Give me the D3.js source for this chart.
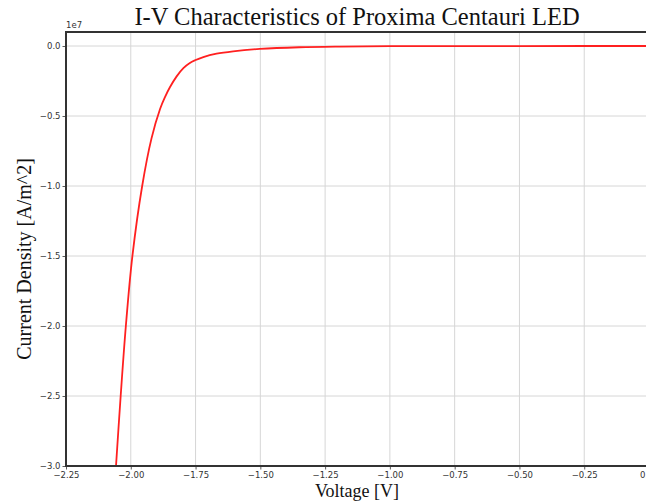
<!DOCTYPE html>
<html>
<head>
<meta charset="utf-8">
<script src="https://cdn.jsdelivr.net/npm/d3@7"></script>
<style>
  body { margin: 0; background: #fff; }
</style>
</head>
<body>
<script>
  // voltage [V] and current density [x 1e7 A/m^2]
  var voltage = [-2.057, -2.039, -2.019, -1.994, -1.956, -1.920, -1.887, -1.868, -1.849, -1.823,
                 -1.797, -1.772, -1.752, -1.720, -1.669, -1.605, -1.502, -1.350, -1.193, -1.000,
                 -0.750, -0.500, -0.250, 0.000];
  var current = [-3.0, -2.5, -2.0, -1.505, -1.0, -0.66, -0.45, -0.365, -0.295, -0.217,
                 -0.158, -0.121, -0.102, -0.079, -0.055, -0.038, -0.021, -0.009, -0.004, -0.0015,
                 -0.0005, -0.0002, -0.0001, 0.0];
  var xTicks = [-2.25, -2.00, -1.75, -1.50, -1.25, -1.00, -0.75, -0.50, -0.25, 0.00];
  var yTicks = [0.0, -0.5, -1.0, -1.5, -2.0, -2.5, -3.0];

  var w = 646, h = 504;
  var plot = { left: 66, right: 649, top: 32, bottom: 466 };

  var svg = d3.select("body").append("svg")
    .attr("width", w)
    .attr("height", h);

  var x = d3.scaleLinear().domain([-2.25, 0]).range([plot.left, plot.right]);
  var y = d3.scaleLinear().domain([-3.0, 0.1]).range([plot.bottom, plot.top]);

  var fmtMinus = function (s) { return s.replace("-", "\u2212"); };

  // grid
  svg.append("g").selectAll("line.vgrid")
    .data(xTicks)
    .enter().append("line")
    .attr("x1", function (d) { return x(d); })
    .attr("x2", function (d) { return x(d); })
    .attr("y1", plot.top)
    .attr("y2", plot.bottom)
    .attr("stroke", "#d6d6d6")
    .attr("stroke-width", 1);

  svg.append("g").selectAll("line.hgrid")
    .data(yTicks)
    .enter().append("line")
    .attr("x1", plot.left)
    .attr("x2", plot.right)
    .attr("y1", function (d) { return y(d); })
    .attr("y2", function (d) { return y(d); })
    .attr("stroke", "#d6d6d6")
    .attr("stroke-width", 1);

  // curve
  var pts = voltage.map(function (v, i) { return [v, current[i]]; });
  var line = d3.line()
    .x(function (d) { return x(d[0]); })
    .y(function (d) { return y(d[1]); })
    .curve(d3.curveCatmullRom.alpha(0.5));

  svg.append("path")
    .datum(pts)
    .attr("d", line)
    .attr("fill", "none")
    .attr("stroke", "#ff2020")
    .attr("stroke-width", 1.8);

  // axes
  var xAxis = d3.axisBottom(x).tickValues(xTicks).tickSize(3.5).tickPadding(2)
    .tickFormat(function (d) { return fmtMinus(d3.format(".2f")(d)); });
  var yAxis = d3.axisLeft(y).tickValues(yTicks).tickSize(3.5).tickPadding(2)
    .tickFormat(function (d) { return fmtMinus(d3.format(".1f")(d)); });

  var gx = svg.append("g")
    .attr("transform", "translate(0," + plot.bottom + ")")
    .call(xAxis);
  var gy = svg.append("g")
    .attr("transform", "translate(" + plot.left + ",0)")
    .call(yAxis);

  [gx, gy].forEach(function (g) {
    g.select(".domain").remove();
    g.selectAll(".tick line").attr("stroke", "#333").attr("stroke-width", 0.8);
    g.selectAll(".tick text")
      .attr("fill", "#333")
      .style("font-family", "DejaVu Sans, sans-serif")
      .style("font-size", "8.5px");
  });

  // spines
  svg.append("rect")
    .attr("x", plot.left)
    .attr("y", plot.top)
    .attr("width", plot.right - plot.left)
    .attr("height", plot.bottom - plot.top)
    .attr("fill", "none")
    .attr("stroke", "#333")
    .attr("stroke-width", 2);

  // offset text
  svg.append("text")
    .attr("x", plot.left)
    .attr("y", plot.top - 4)
    .attr("fill", "#333")
    .style("font-family", "DejaVu Sans, sans-serif")
    .style("font-size", "8.5px")
    .text("1e7");

  // title and labels
  svg.append("text")
    .attr("x", 357)
    .attr("y", 25)
    .attr("text-anchor", "middle")
    .attr("fill", "#111")
    .style("font-family", "Liberation Serif, serif")
    .style("font-size", "24.5px")
    .text("I-V Characteristics of Proxima Centauri LED");

  svg.append("text")
    .attr("x", 357)
    .attr("y", 497)
    .attr("text-anchor", "middle")
    .attr("fill", "#111")
    .style("font-family", "Liberation Serif, serif")
    .style("font-size", "18px")
    .text("Voltage [V]");

  svg.append("text")
    .attr("transform", "translate(31," + ((plot.top + plot.bottom) / 2 + 10) + ") rotate(-90)")
    .attr("text-anchor", "middle")
    .attr("fill", "#111")
    .style("font-family", "Liberation Serif, serif")
    .style("font-size", "20px")
    .text("Current Density [A/m^2]");
</script>
</body>
</html>
